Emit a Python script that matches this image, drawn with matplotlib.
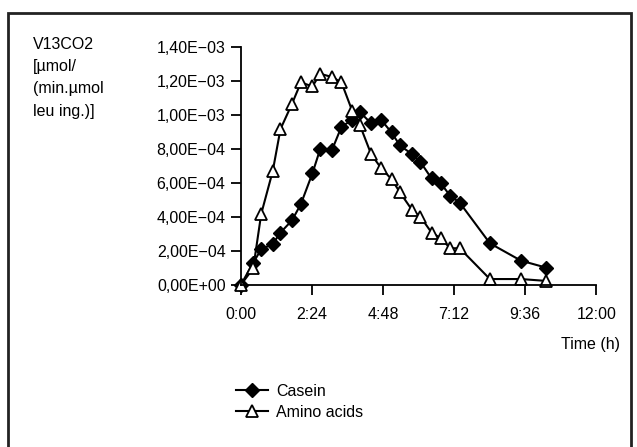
import matplotlib.pyplot as plt
from matplotlib.patches import Rectangle
from matplotlib.ticker import FuncFormatter
import numpy as np

plt.rcParams['font.family'] = ['Liberation Sans', 'DejaVu Sans']

# time in hours
tiempo = [0, 0.42, 0.69, 1.08, 1.34, 1.73, 2.03, 2.42, 2.68, 3.08, 3.40, 3.76, 4.02,
          4.40, 4.74, 5.09, 5.37, 5.78, 6.06, 6.44, 6.75, 7.07, 7.39, 8.41, 9.46, 10.31]

casein = [0, 1.31e-4, 2.1e-4, 2.41e-4, 3.08e-4, 3.8e-4, 4.76e-4, 6.57e-4, 7.98e-4,
          7.94e-4, 9.3e-4, 9.7e-4, 1.016e-3, 9.5e-4, 9.7e-4, 8.96e-4, 8.2e-4, 7.69e-4,
          7.24e-4, 6.26e-4, 5.98e-4, 5.24e-4, 4.84e-4, 2.45e-4, 1.43e-4, 1.02e-4]

amino = [0, 0.98e-4, 4.18e-4, 6.7e-4, 9.16e-4, 1.065e-3, 1.19e-3, 1.167e-3, 1.241e-3,
         1.222e-3, 1.19e-3, 1.024e-3, 9.4e-4, 7.69e-4, 6.86e-4, 6.22e-4, 5.45e-4,
         4.41e-4, 4.02e-4, 3.08e-4, 2.75e-4, 2.16e-4, 2.16e-4, 0.35e-4, 0.35e-4, 0.24e-4]

xticks = [0, 2.4, 4.8, 7.2, 9.6, 12]
xlabels = ['0:00', '2:24', '4:48', '7:12', '9:36', '12:00']


def fmt_sci(v, pos):
    s = "{:.2E}".format(v)
    mant, exp = s.split('E')
    exp = exp.replace('-', '\u2212')
    return mant.replace('.', ',') + 'E' + exp


fig = plt.figure(figsize=(6.37, 4.47), dpi=100)
ax = fig.add_axes([0.378, 0.3624, 0.558, 0.5331])

l1, = ax.plot(tiempo, casein, color='black', lw=1.5, marker='D', markersize=7,
              markerfacecolor='black', markeredgecolor='black', label='Casein',
              clip_on=False)
l2, = ax.plot(tiempo, amino, color='black', lw=1.5, marker='^', markersize=8.5,
              markerfacecolor='white', markeredgecolor='black', markeredgewidth=1.3,
              label='Amino acids', clip_on=False)

ax.set_xlim(0, 12)
ax.set_ylim(0, 1.4e-3)
ax.set_xticks(xticks)
ax.set_xticklabels(xlabels)
ax.set_yticks(np.arange(0, 1.41e-3, 2e-4))
ax.yaxis.set_major_formatter(FuncFormatter(fmt_sci))
ax.spines['top'].set_visible(False)
ax.spines['right'].set_visible(False)
ax.spines['left'].set_linewidth(1.3)
ax.spines['bottom'].set_linewidth(1.3)
ax.tick_params(direction='out', length=7, width=1.3, labelsize=11.5, pad=4)
ax.tick_params(axis='x', pad=9)

fig.text(33 / 637, 1 - 37 / 447, "V13CO2\n[\u00b5mol/\n(min.\u00b5mol\nleu ing.)]",
         fontsize=11.5, va='top', ha='left', linespacing=1.6)
fig.text(620 / 637, 1 - 344 / 447, "Time (h)", fontsize=11.5, ha='right', va='center')

fig.legend(handles=[l1, l2], loc='upper left', bbox_to_anchor=(236 / 637, 1 - 384 / 447),
           frameon=False, fontsize=11.5, handlelength=2.0, handletextpad=0.5,
           labelspacing=0.35, borderpad=0, borderaxespad=0)

fig.patches.append(Rectangle((8 / 637, -0.05), 623 / 637, 1.05 - 13 / 447,
                             transform=fig.transFigure, fill=False, lw=2,
                             edgecolor='#222222'))

fig.savefig('out.png', dpi=100)
